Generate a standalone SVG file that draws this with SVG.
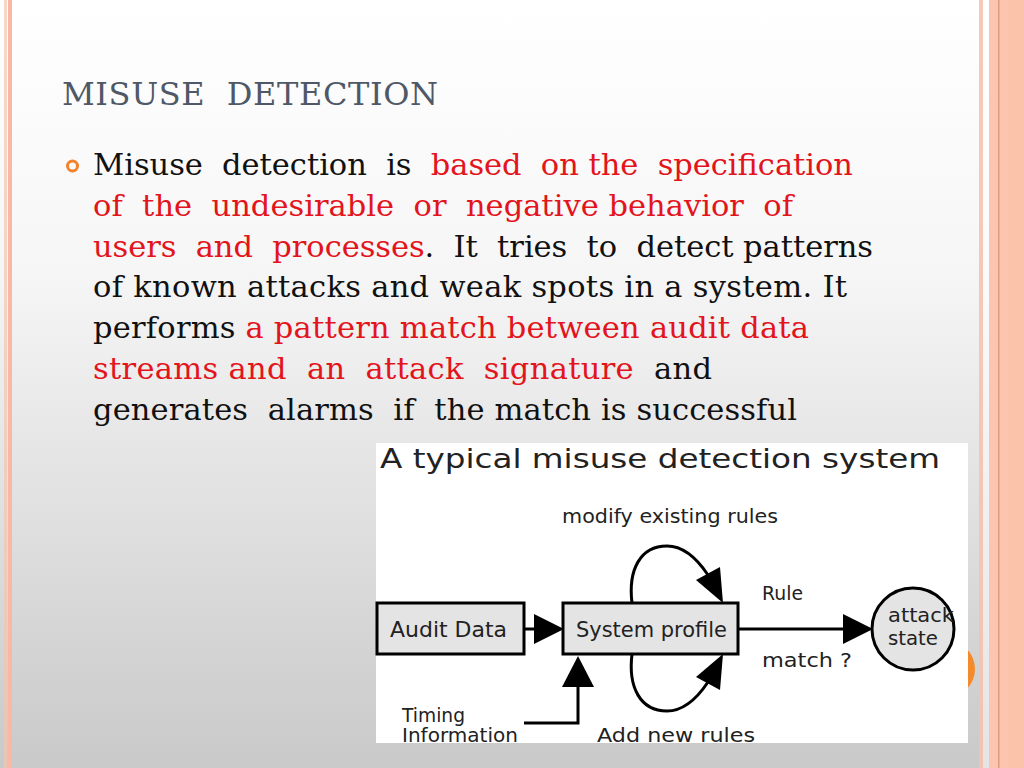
<svg xmlns="http://www.w3.org/2000/svg" width="1024" height="768" viewBox="0 0 1024 768">
<defs>
<linearGradient id="bg" x1="0" y1="0" x2="0" y2="1">
<stop offset="0" stop-color="#ffffff"/>
<stop offset="0.35" stop-color="#f6f6f6"/>
<stop offset="1" stop-color="#c9c9c9"/>
</linearGradient>
<style>
.body{font-family:"DejaVu Serif","Liberation Serif",serif;font-size:30.5px;fill:#111;white-space:pre}
.red{fill:#e3141c}
.dg{font-family:"DejaVu Sans","Liberation Sans",sans-serif;fill:#222}
.box{fill:#e4e4e4;stroke:#000;stroke-width:3}
.ln{fill:none;stroke:#000;stroke-width:3}
.ah{fill:#000;stroke:none}
</style>
</defs>
<rect x="0" y="0" width="1024" height="768" fill="url(#bg)"/>
<rect x="4" y="0" width="3" height="768" fill="#f0c6b0" opacity="0.7"/>
<rect x="8" y="0" width="4" height="768" fill="#fbb7a4"/>
<rect x="979" y="0" width="4" height="768" fill="#f7c2af" opacity="0.9"/>
<rect x="983" y="0" width="6" height="768" fill="#ffffff" opacity="0.5"/>
<rect x="989" y="0" width="35" height="768" fill="#fbc5af"/>
<rect x="998" y="0" width="1.5" height="768" fill="#e49b7c"/>
<rect x="1008" y="0" width="16" height="768" fill="#fcc3ab"/>
<circle cx="946" cy="669" r="29" fill="#f58a2c"/>
<text x="62" y="105" font-family="DejaVu Serif, Liberation Serif, serif" font-size="32" fill="#4e5866" textLength="376" lengthAdjust="spacing" xml:space="preserve">MISUSE  DETECTION</text>
<circle cx="72.5" cy="166" r="5" fill="none" stroke="#f2822c" stroke-width="3"/>
<g class="body">
<text x="93" y="175" textLength="760" lengthAdjust="spacing" xml:space="preserve">Misuse  detection  is  <tspan class="red">based  on the  specification</tspan></text>
<text x="93" y="216" textLength="700" lengthAdjust="spacing" class="red" xml:space="preserve">of  the  undesirable  or  negative behavior  of</text>
<text x="93" y="257" textLength="780" lengthAdjust="spacing" xml:space="preserve"><tspan class="red">users  and  processes</tspan>.  It  tries  to  detect patterns</text>
<text x="93" y="297" textLength="754" lengthAdjust="spacing" xml:space="preserve">of known attacks and weak spots in a system. It</text>
<text x="93" y="338" textLength="716" lengthAdjust="spacing" xml:space="preserve">performs <tspan class="red">a pattern match between audit data</tspan></text>
<text x="93" y="379" textLength="619" lengthAdjust="spacing" xml:space="preserve"><tspan class="red">streams and  an  attack  signature</tspan>  and</text>
<text x="93" y="420" textLength="704" lengthAdjust="spacing" xml:space="preserve">generates  alarms  if  the match is successful</text>
</g>
<rect x="376" y="443" width="592" height="300" fill="#ffffff"/>
<text class="dg" x="380" y="468" font-size="27" textLength="560" lengthAdjust="spacingAndGlyphs">A typical misuse detection system</text>
<g id="connectors">
<line class="ln" x1="524" y1="629" x2="536" y2="629"/>
<polygon class="ah" points="534,614 564,629 534,644"/>
<line class="ln" x1="738" y1="629" x2="845" y2="629"/>
<polygon class="ah" points="843,614 873,629 843,644"/>
<path class="ln" d="M632,603 C628,570 640,546 667,546 C685,546 698,560 708,575"/>
<polygon class="ah" points="723,603 696,580 720,567"/>
<path class="ln" d="M632,654 C628,687 640,711 667,711 C685,711 698,697 708,682"/>
<polygon class="ah" points="723,654 696,677 720,690"/>
<polyline class="ln" points="524,723 578,723 578,685"/>
<polygon class="ah" points="562,687 578,656 594,687"/>
</g>
<g id="node-audit-data">
<rect class="box" x="377" y="603" width="147" height="51"/>
<text class="dg" x="390" y="637" font-size="21" textLength="117" lengthAdjust="spacingAndGlyphs">Audit Data</text>
</g>
<g id="node-system-profile">
<rect class="box" x="563" y="603" width="175" height="51"/>
<text class="dg" x="576" y="637" font-size="21" textLength="151" lengthAdjust="spacingAndGlyphs">System profile</text>
</g>
<g id="node-attack-state">
<circle class="box" cx="913" cy="629" r="41"/>
<text class="dg" x="888" y="622" font-size="19" textLength="66" lengthAdjust="spacingAndGlyphs">attack</text>
<text class="dg" x="888" y="645" font-size="19" textLength="50" lengthAdjust="spacingAndGlyphs">state</text>
</g>
<g id="labels">
<text class="dg" x="562" y="523" font-size="19" textLength="216" lengthAdjust="spacingAndGlyphs">modify existing rules</text>
<text class="dg" x="762" y="600" font-size="19" textLength="41" lengthAdjust="spacingAndGlyphs">Rule</text>
<text class="dg" x="762" y="667" font-size="19" textLength="90" lengthAdjust="spacingAndGlyphs">match ?</text>
<text class="dg" x="402" y="722" font-size="19" textLength="63" lengthAdjust="spacingAndGlyphs">Timing</text>
<text class="dg" x="402" y="742" font-size="19" textLength="116" lengthAdjust="spacingAndGlyphs">Information</text>
<text class="dg" x="597" y="742" font-size="19" textLength="158" lengthAdjust="spacingAndGlyphs">Add new rules</text>
</g>
</svg>
